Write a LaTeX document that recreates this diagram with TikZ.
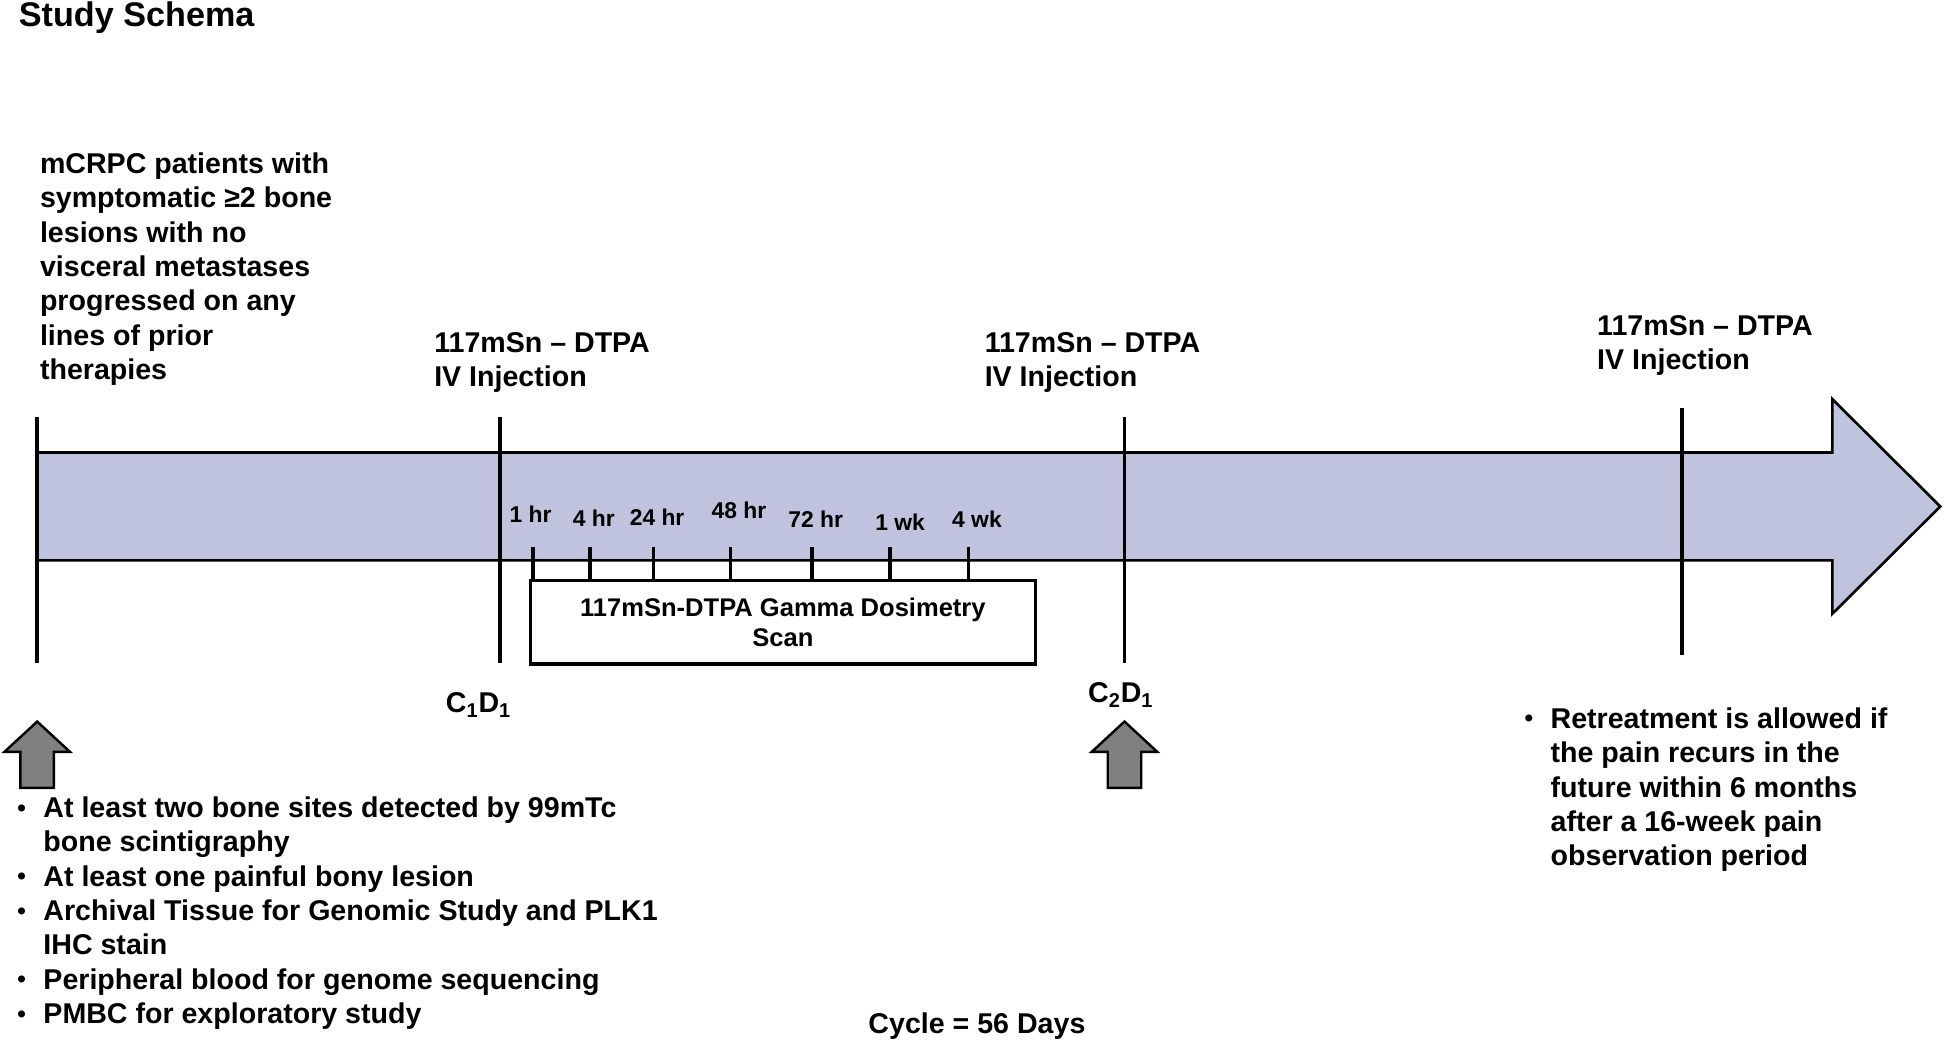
\documentclass[tikz,border=0pt]{standalone}
\usepackage{fontspec}
\setmainfont{Liberation Sans}
\newcommand{\txtsize}{\fontsize{16.4}{19.7}\selectfont\bfseries}
\newcommand{\ticksize}{\fontsize{13.1}{15.7}\selectfont\bfseries}
\newcommand{\scansize}{\fontsize{14.65}{17.1}\selectfont\bfseries}
\newcommand{\dotmark}{\raisebox{0.85pt}{\fontsize{14}{14}\selectfont\textbullet}}
\definecolor{bandfill}{RGB}{191,195,222}
\definecolor{arrowgray}{RGB}{128,128,128}

\begin{document}
\begin{tikzpicture}[x=0.025cm,y=-0.025cm,
    band/.style={fill=bandfill,draw=black,line width=1.5pt,line join=miter},
    dayline/.style={line width=2.2pt},
    uparrow/.style={fill=arrowgray,draw=black,line width=1.4pt,line join=miter}]

  \useasboundingbox (0,0) rectangle (1568,841);

  % timeline band with its head
  \draw[band] (30,365) -- (1478,365) -- (1478,322) -- (1565,408.5)
    -- (1478,495) -- (1478,452) -- (30,452) -- cycle;

  % injection days
  \draw[dayline] (30,336) -- (30,535);
  \draw[dayline] (403,336) -- (403,535);
  \draw[dayline] (907,336) -- (907,535);
  \draw[dayline] (1357,329) -- (1357,528);

  \begin{scope}[every node/.style={inner sep=0pt,font=\txtsize,align=left}]
    \node[anchor=base west,font=\fontsize{19.6}{23}\selectfont\bfseries] (title) at (15,21.5) {Study Schema};
    \node[anchor=north west] (elig) at (32,122.8)
      {mCRPC patients with\\symptomatic ≥2 bone\\lesions with no\\visceral metastases\\progressed on any\\lines of prior\\therapies};
    \node[anchor=north west] (inj1) at (350,268) {117mSn – DTPA\\IV Injection};
    \node[anchor=north west] (inj2) at (794,268) {117mSn – DTPA\\IV Injection};
    \node[anchor=north west] (inj3) at (1288,254) {117mSn – DTPA\\IV Injection};
    \node[anchor=base] (c1d1) at (386,575) {C\textsubscript{1}D\textsubscript{1}};
    \node[anchor=base] (c2d1) at (904,567) {C\textsubscript{2}D\textsubscript{1}};
    \node[anchor=base] (cycle) at (788,834) {Cycle = 56 Days};
    \node[anchor=north west] (baseline) at (13.8,639.8)
      {\begin{tabular}{@{}l@{\hspace{10pt}}l@{}}
        \dotmark & At least two bone sites detected by 99mTc\\
                 & bone scintigraphy\\
        \dotmark & At least one painful bony lesion\\
        \dotmark & Archival Tissue for Genomic Study and PLK1\\
                 & IHC stain\\
        \dotmark & Peripheral blood for genome sequencing\\
        \dotmark & PMBC for exploratory study
      \end{tabular}};
    \node[anchor=north west] (retreat) at (1229.5,567.8)
      {\begin{tabular}{@{}l@{\hspace{10pt}}l@{}}
        \dotmark & Retreatment is allowed if\\
                 & the pain recurs in the\\
                 & future within 6 months\\
                 & after a 16-week pain\\
                 & observation period
      \end{tabular}};
  \end{scope}

  % dosimetry scan box and its time points
  \node[draw,line width=1.9pt,minimum width=10.175cm,minimum height=1.6875cm,
    align=center,inner sep=0pt,font=\scansize] (scan) at (631.5,501.75)
    {117mSn-DTPA Gamma Dosimetry\\Scan};
  \foreach \x/\lx/\ly/\lab in {430/428/415/1 hr,476/479/418/4 hr,527/530/417/24 hr,
      589/596/412/48 hr,655/658/419/72 hr,718/726/421/1 wk,781/788/419/4 wk}{
    \draw[line width=2pt] (\x,441) -- (\x,0 |- scan.north);
    \node[inner sep=0pt,font=\ticksize] at (\lx,\ly) {\lab};
  }

  % entry points
  \foreach \x in {30,907}
    \draw[uparrow] (\x,582) -- ++(26.5,24.5) -- ++(-13,0) -- ++(0,29)
      -- ++(-27,0) -- ++(0,-29) -- ++(-13,0) -- cycle;

\end{tikzpicture}
\end{document}
